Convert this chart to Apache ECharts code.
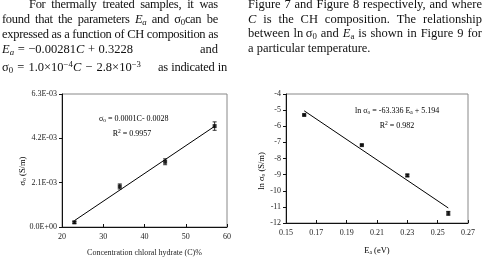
<!DOCTYPE html>
<html>
<head>
<meta charset="utf-8">
<script src="https://cdn.jsdelivr.net/npm/echarts@6/dist/echarts.min.js"></script>
<style>
  html, body { margin: 0; padding: 0; background: #fff; }
  #wrap { position: relative; width: 485px; height: 266px; overflow: hidden; }
  #chart { position: absolute; left: 0; top: 0; width: 485px; height: 266px; }
  .ln { position: absolute; height: 15px; line-height: 15px; font-family: 'Liberation Serif', serif;
        font-size: 12.5px; color: #111; display: flex; justify-content: space-between; white-space: nowrap; }
  .ln span { flex: none; }
  .ln sub, .ln sup { font-size: 70%; line-height: 0; }
  .ln sub { vertical-align: -0.25em; }
  .ln sup { vertical-align: 0.5em; }
  .tight { letter-spacing: -0.3px; }
</style>
</head>
<body>
<div id="wrap">
  <div id="chart"></div>
</div>
<script>
// Figure 7: sigma_0 against chloral hydrate concentration
var concC = [23, 34, 45, 57];
var sigma0 = [0.00022, 0.00192, 0.00309, 0.00478];
var sigma0Err = [0.00005, 0.00012, 0.00014, 0.0002];
var leftYTicks = [0, 0.0021, 0.0042, 0.0063];

// Figure 9: ln sigma_0 against activation energy
var actEa = [0.162, 0.200, 0.230, 0.257];
var lnSigma0 = [-5.30, -7.17, -9.05, -11.40];
var lnSigma0Err = [0.05, 0.05, 0.08, 0.12];
var rightXTicks = [0.15, 0.17, 0.19, 0.21, 0.23, 0.25, 0.27];

// paragraph pieces above the charts: [left, top, width, indent, tight, words]
var textLines = [
  [2, -3, 216, 27, 1, ['For', 'thermally', 'treated', 'samples,', 'it', 'was']],
  [2, 12, 216, 0, 1, ['found', 'that', 'the', 'parameters', '<i>E<sub>a</sub></i>', 'and', '&sigma;<sub>0</sub>can', 'be']],
  [2, 27, 216, 0, 1, ['expressed', 'as', 'a', 'function', 'of', 'CH', 'composition', 'as']],
  [2, 42, 131, 0, 0, ['<i>E<sub>a</sub></i>', '=', '&minus;0.00281<i>C</i>', '+', '0.3228']],
  [200, 42, 27, 0, 0, ['and']],
  [2, 60, 139, 0, 0, ['&sigma;<sub>0</sub>', '=', '1.0&times;10<sup>&minus;4</sup><i>C</i>', '&minus;', '2.8&times;10<sup>&minus;3</sup>']],
  [158, 60, 69, 0, 1, ['as', 'indicated', 'in']],
  [248, -3, 234, 0, 0, ['Figure', '7', 'and', 'Figure', '8', 'respectively,', 'and', 'where']],
  [248, 12, 234, 0, 0, ['<i>C</i>', 'is', 'the', 'CH', 'composition.', 'The', 'relationship']],
  [248, 26, 234, 0, 0, ['between', 'ln&thinsp;&sigma;<sub>0</sub>', 'and', '<i>E</i><sub>a</sub>', 'is', 'shown', 'in', 'Figure', '9', 'for']],
  [248, 41, 150, 0, 0, ['a particular temperature.']]
];

(function() {
  var wrap = document.getElementById('wrap');
  textLines.forEach(function(l) {
    var d = document.createElement('div');
    d.className = 'ln' + (l[4] ? ' tight' : '');
    d.style.left = (l[0] + l[3]) + 'px';
    d.style.top = l[1] + 'px';
    d.style.width = (l[2] - l[3]) + 'px';
    if (l[5].length === 1) d.style.justifyContent = 'flex-start';
    d.innerHTML = l[5].map(function(w) { return '<span>' + w + '</span>'; }).join('');
    wrap.appendChild(d);
  });
})();

var FONT = 'Liberation Serif';

function fitLine(xs, ys) {
  var n = xs.length, mx = 0, my = 0;
  for (var i = 0; i < n; i++) { mx += xs[i] / n; my += ys[i] / n; }
  var sxx = 0, sxy = 0;
  for (var j = 0; j < n; j++) { sxx += (xs[j] - mx) * (xs[j] - mx); sxy += (xs[j] - mx) * (ys[j] - my); }
  var b = sxy / sxx, a = my - b * mx;
  var x0 = Math.min.apply(null, xs), x1 = Math.max.apply(null, xs);
  return [[x0, a + b * x0], [x1, a + b * x1]];
}

function expLabel(v) {
  var s = v.toExponential(1).split('e');
  var ex = parseInt(s[1], 10);
  return s[0] + 'E' + (ex < 0 ? '-' : '+') + String(Math.abs(ex)).padStart(2, '0');
}

function errorBars(params, api) {
  var x = api.value(0), y = api.value(1), e = api.value(2);
  var hi = api.coord([x, y + e]), lo = api.coord([x, y - e]);
  var st = { stroke: '#000', lineWidth: 0.8 };
  return {
    type: 'group',
    children: [
      { type: 'line', shape: { x1: hi[0], y1: hi[1], x2: lo[0], y2: lo[1] }, style: st },
      { type: 'line', shape: { x1: hi[0] - 2, y1: hi[1], x2: hi[0] + 2, y2: hi[1] }, style: st },
      { type: 'line', shape: { x1: lo[0] - 2, y1: lo[1], x2: lo[0] + 2, y2: lo[1] }, style: st }
    ]
  };
}

function zip3(a, b, c) { return a.map(function(v, i) { return [v, b[i], c[i]]; }); }

var labelStyle = { fontFamily: FONT, fontSize: 8, color: '#222' };
var rich = {
  t: { fontFamily: FONT, fontSize: 8, color: '#111', lineHeight: 10 },
  y: { fontFamily: FONT, fontSize: 8.5, color: '#111', lineHeight: 10 },
  s: { fontFamily: FONT, fontSize: 5.5, color: '#111', lineHeight: 4, verticalAlign: 'bottom' },
  p: { fontFamily: FONT, fontSize: 5.5, color: '#111', lineHeight: 4, verticalAlign: 'top' }
};

var chart = echarts.init(document.getElementById('chart'), null, { renderer: 'canvas' });
chart.setOption({
  animation: false,
  grid: [
    { left: 62, top: 94, width: 165, height: 133, show: true, borderColor: '#888', borderWidth: 1 },
    { left: 286, top: 94, width: 182, height: 129, show: true, borderColor: '#888', borderWidth: 1 }
  ],
  xAxis: [
    {
      gridIndex: 0, type: 'value', min: 20, max: 60, interval: 10,
      axisLine: { lineStyle: { color: '#111', width: 1 } },
      axisTick: { inside: true, length: 3, lineStyle: { color: '#111' } },
      axisLabel: Object.assign({ margin: 6 }, labelStyle),
      splitLine: { show: false }
    },
    {
      gridIndex: 1, type: 'value', min: 0.15, max: 0.27,
      axisLine: { lineStyle: { color: '#111', width: 1 } },
      axisTick: { inside: true, length: 3, customValues: rightXTicks, lineStyle: { color: '#111' } },
      axisLabel: Object.assign({ margin: 6, customValues: rightXTicks,
        formatter: function(v) { return v.toFixed(2); } }, labelStyle),
      splitLine: { show: false }
    }
  ],
  yAxis: [
    {
      gridIndex: 0, type: 'value', min: 0, max: 0.0063,
      axisLine: { show: true, lineStyle: { color: '#111', width: 1 } },
      axisTick: { show: true, length: 3, customValues: leftYTicks, lineStyle: { color: '#111' } },
      axisLabel: Object.assign({ margin: 5, customValues: leftYTicks, formatter: expLabel }, labelStyle),
      splitLine: { show: false }
    },
    {
      gridIndex: 1, type: 'value', min: -12, max: -4, interval: 1,
      axisLine: { show: true, lineStyle: { color: '#111', width: 1 } },
      axisTick: { show: true, length: 3, lineStyle: { color: '#111' } },
      axisLabel: Object.assign({ margin: 5 }, labelStyle),
      splitLine: { show: false }
    }
  ],
  series: [
    { type: 'line', xAxisIndex: 0, yAxisIndex: 0, data: fitLine(concC, sigma0), showSymbol: false,
      lineStyle: { color: '#000', width: 1 } },
    { type: 'custom', xAxisIndex: 0, yAxisIndex: 0, data: zip3(concC, sigma0, sigma0Err), renderItem: errorBars },
    { type: 'scatter', xAxisIndex: 0, yAxisIndex: 0, data: concC.map(function(c, i) { return [c, sigma0[i]]; }),
      symbol: 'rect', symbolSize: 4, itemStyle: { color: '#000' } },
    { type: 'line', xAxisIndex: 1, yAxisIndex: 1, data: fitLine(actEa, lnSigma0), showSymbol: false,
      lineStyle: { color: '#000', width: 1 } },
    { type: 'custom', xAxisIndex: 1, yAxisIndex: 1, data: zip3(actEa, lnSigma0, lnSigma0Err), renderItem: errorBars },
    { type: 'scatter', xAxisIndex: 1, yAxisIndex: 1, data: actEa.map(function(e, i) { return [e, lnSigma0[i]]; }),
      symbol: 'rect', symbolSize: 4, itemStyle: { color: '#000' } }
  ],
  graphic: [
    { type: 'text', left: 99, top: 115, style: { text: '{t|σ}{s|o}{t| = 0.0001C- 0.0028}', rich: rich } },
    { type: 'text', x: 132, y: 134, style: { text: '{t|R}{p|2}{t| = 0.9957}', rich: rich, align: 'center', verticalAlign: 'middle' } },
    { type: 'text', left: 355, top: 107, style: { text: '{t|ln σ}{s|o}{t| = -63.336 E}{s|a}{t| + 5.194}', rich: rich } },
    { type: 'text', x: 397, y: 126, style: { text: '{t|R}{p|2}{t| = 0.982}', rich: rich, align: 'center', verticalAlign: 'middle' } },
    { type: 'text', x: 23, y: 171, rotation: Math.PI / 2,
      style: { text: '{y|σ}{s|o}{y| (S/m)}', rich: rich, align: 'center', verticalAlign: 'middle' } },
    { type: 'text', x: 262, y: 171, rotation: Math.PI / 2,
      style: { text: '{y|ln σ}{s|o}{y| (S/m)}', rich: rich, align: 'center', verticalAlign: 'middle' } },
    { type: 'text', x: 144.5, y: 253, style: { text: 'Concentration chloral hydrate (C)%', fontFamily: FONT, fontSize: 8,
      fill: '#222', align: 'center', verticalAlign: 'middle' } },
    { type: 'text', x: 377, y: 251, style: { text: '{y|E}{s|a}{y| (eV)}', rich: rich, align: 'center', verticalAlign: 'middle' } }
  ]
});
</script>
</body>
</html>
